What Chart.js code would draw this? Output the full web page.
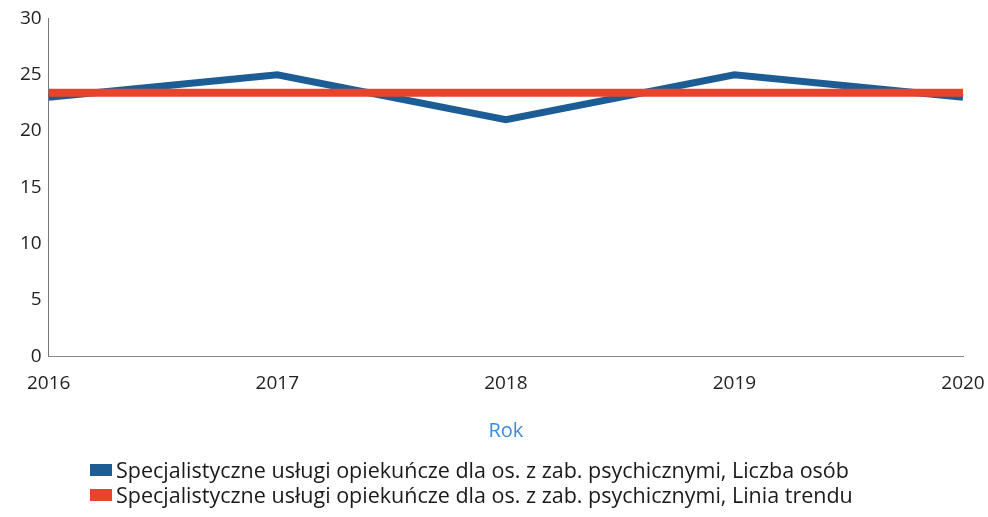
<!DOCTYPE html>
<html>
<head>
<meta charset="utf-8">
<script src="https://cdn.jsdelivr.net/npm/chart.js@4"></script>
<style>
  body { margin: 0; background: #fff; }
  #wrap { position: relative; width: 988px; height: 517px; }
  #legend { position: absolute; left: 90px; top: 457px; font-family: "Open Sans", sans-serif; font-size: 21.5px; color: #1a1a1a; line-height: 25px; white-space: nowrap; }
  #legend span.box { display: inline-block; width: 22px; height: 12px; margin-right: 4px; vertical-align: 2px; }
</style>
</head>
<body>
<div id="wrap">
  <canvas id="chart" width="988" height="517"></canvas>
  <div id="legend"></div>
</div>
<script>
// data
const years = ['2016', '2017', '2018', '2019', '2020'];
const liczbaOsob = [23, 25, 21, 25, 23];
const liniaTrendu = [23.4, 23.4, 23.4, 23.4, 23.4];
const yTicks = [0, 5, 10, 15, 20, 25, 30];

const seriesNames = [
  'Specjalistyczne usługi opiekuńcze dla os. z zab. psychicznymi, Liczba osób',
  'Specjalistyczne usługi opiekuńcze dla os. z zab. psychicznymi, Linia trendu'
];
const colors = ['#1d5d95', '#e5452d'];

const font = 'Open Sans';

const ctx = document.getElementById('chart').getContext('2d');
new Chart(ctx, {
  type: 'line',
  data: {
    labels: years,
    datasets: [{
      label: seriesNames[0],
      data: liczbaOsob,
      borderColor: colors[0],
      borderWidth: 7,
      pointRadius: 0,
      tension: 0,
      fill: false,
      order: 2
    }, {
      label: seriesNames[1],
      data: liniaTrendu,
      borderColor: colors[1],
      borderWidth: 8,
      pointRadius: 0,
      tension: 0,
      fill: false,
      order: 1
    }]
  },
  options: {
    responsive: false,
    animation: false,
    layout: { padding: { left: 13, right: 0, top: 9, bottom: 70 } },
    plugins: {
      legend: { display: false },
      tooltip: { enabled: false }
    },
    scales: {
      y: {
        min: 0,
        max: 30,
        afterBuildTicks: (axis) => { axis.ticks = yTicks.map(v => ({ value: v })); },
        grid: { display: false, drawTicks: false },
        border: { display: true, color: '#777', width: 1, dash: [6, 1] },
        ticks: { font: { family: font, size: 19 }, color: '#222', padding: 7 }
      },
      x: {
        offset: false,
        afterFit: (axis) => { axis.paddingRight = 25; },
        grid: { display: false, drawTicks: false },
        border: { display: true, color: '#888', width: 1, dash: [5, 2] },
        ticks: { font: { family: font, size: 19 }, color: '#222', padding: 16, maxRotation: 0 },
        title: {
          display: true,
          text: 'Rok',
          color: '#3a8de0',
          font: { family: font, size: 20 },
          padding: { top: 8 }
        }
      }
    }
  }
});

// legend
const legend = document.getElementById('legend');
seriesNames.forEach((name, i) => {
  const row = document.createElement('div');
  row.innerHTML = '<span class="box" style="background:' + colors[i] + '"></span>' + name;
  legend.appendChild(row);
});
</script>
</body>
</html>
